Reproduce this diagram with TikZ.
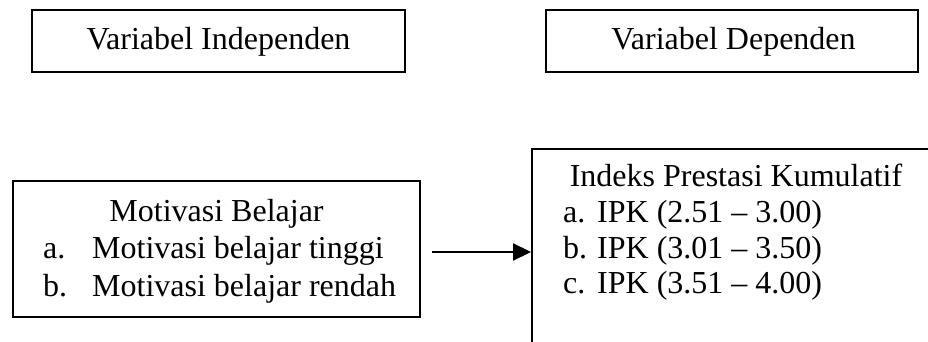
\documentclass[tikz,border=0pt]{standalone}
\usepackage{fontspec}
\setmainfont{Liberation Serif}
\usetikzlibrary{arrows.meta}
\begin{document}
\begin{tikzpicture}[x=1pt,y=-1pt,
  box/.style={draw, line width=2pt, inner sep=0pt},
  txt/.style={inner sep=0pt, font=\fontsize{32}{37}\selectfont},
  lbl/.style={txt, anchor=base west},
  ttl/.style={txt, anchor=base},
  conn/.style={line width=2.2pt, -{Triangle[length=18pt,width=17pt]}}]
\clip (0,0) rectangle (928,342);
\fill[white] (0,0) rectangle (928,342);
% top boxes
\node[box, minimum width=373pt, minimum height=62pt] (iv) at (218.5,41) {};
\node[ttl] (ivt) at (218.5,50) {Variabel Independen};
\node[box, minimum width=372pt, minimum height=62pt] (dv) at (732,41) {};
\node[ttl] (dvt) at (733.5,50) {Variabel Dependen};
% lower left box
\node[box, minimum width=407pt, minimum height=136pt] (mb) at (216.5,249) {};
\node[ttl] (mbt) at (216.5,221) {Motivasi Belajar};
\node[lbl] (mba) at (43,258) {a.};
\node[lbl] (mbat) at (92,258) {Motivasi belajar tinggi};
\node[lbl] (mbb) at (43,296) {b.};
\node[lbl] (mbbt) at (92,296) {Motivasi belajar rendah};
% lower right box (runs off the page)
\node[box, minimum width=420pt, minimum height=220pt] (ipk) at (742,259) {};
\node[ttl] (ipkt) at (736,186) {Indeks Prestasi Kumulatif};
\node[lbl] (ipa) at (563,222) {a.};
\node[lbl] (ipat) at (597,222) {IPK (2.51 – 3.00)};
\node[lbl] (ipb) at (563,258) {b.};
\node[lbl] (ipbt) at (597,258) {IPK (3.01 – 3.50)};
\node[lbl] (ipc) at (563,293) {c.};
\node[lbl] (ipct) at (597,293) {IPK (3.51 – 4.00)};
% arrow
\coordinate (a0) at (432,252);
\draw[conn] (a0) -- (a0 -| ipk.west);
\end{tikzpicture}
\end{document}
